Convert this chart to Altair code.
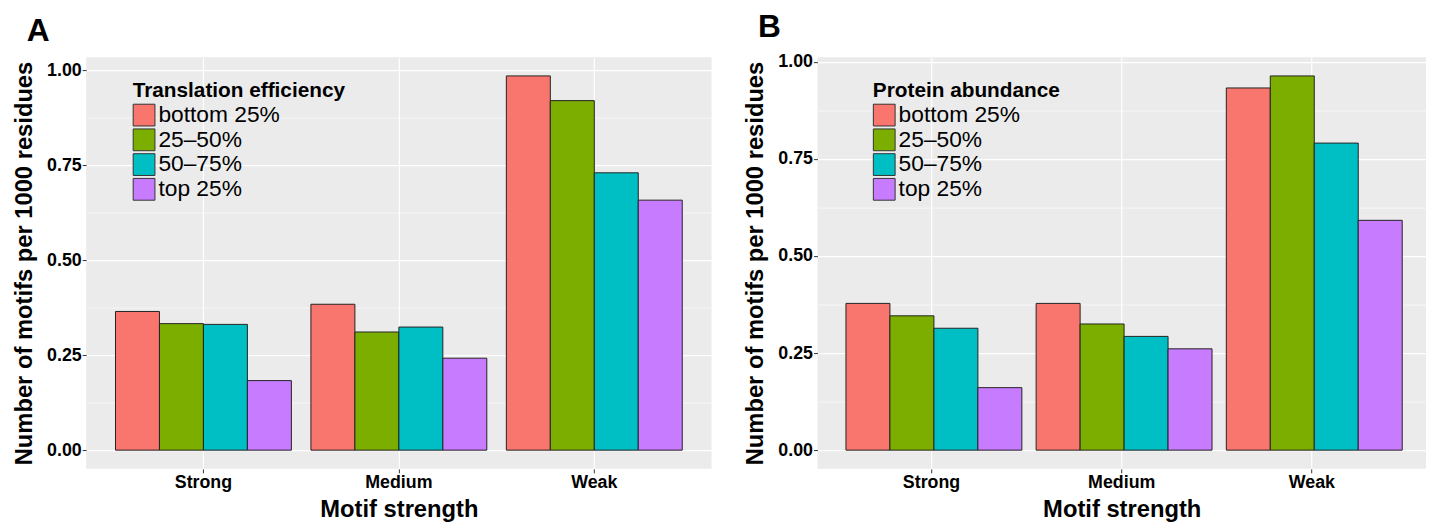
import altair as alt
import pandas as pd

categories = ["Strong", "Medium", "Weak"]
groups = ["bottom 25%", "25–50%", "50–75%", "top 25%"]
colors = ["#F8766D", "#7CAE00", "#00BFC4", "#C77CFF"]

# Panel A: translation efficiency
te_bottom = [0.365, 0.384, 0.985]
te_q2 = [0.333, 0.311, 0.920]
te_q3 = [0.331, 0.324, 0.730]
te_top = [0.183, 0.242, 0.658]

# Panel B: protein abundance
pa_bottom = [0.378, 0.378, 0.933]
pa_q2 = [0.346, 0.325, 0.964]
pa_q3 = [0.314, 0.293, 0.791]
pa_top = [0.161, 0.261, 0.592]

y_ticks = [0, 0.125, 0.25, 0.375, 0.5, 0.625, 0.75, 0.875, 1.0]

FONT = "Liberation Sans"
MAJOR = "datum.value % 0.25 == 0"


def frame(series):
    rows = []
    for g, vals in zip(groups, series):
        for c, v in zip(categories, vals):
            rows.append({"strength": c, "group": g, "value": v})
    return pd.DataFrame(rows)


def panel(df, letter, legend_title, width, legend_x):
    vmax = float(df["value"].max())
    dom = [-0.05 * vmax, 1.05 * vmax]
    return (
        alt.Chart(df)
        .mark_bar(stroke="#222222", strokeWidth=1)
        .encode(
            x=alt.X(
                "strength:N",
                sort=categories,
                scale=alt.Scale(paddingInner=0.1, paddingOuter=0.15),
                axis=alt.Axis(
                    title="Motif strength",
                    labelAngle=0,
                    bandPosition=0.5,
                    grid=True,
                    gridColor="white",
                    gridWidth=1.2,
                    domain=False,
                    tickSize=4,
                    tickColor="#333333",
                    labelPadding=1,
                    labelFont=FONT,
                    labelFontSize=18,
                    labelFontWeight="bold",
                    labelColor="black",
                    titleFont=FONT,
                    titleFontSize=24,
                    titleFontWeight="bold",
                    titleColor="black",
                    titlePadding=6,
                ),
            ),
            xOffset=alt.XOffset(
                "group:N",
                sort=groups,
                scale=alt.Scale(paddingInner=0, paddingOuter=0),
            ),
            y=alt.Y(
                "value:Q",
                stack=None,
                scale=alt.Scale(domain=dom, nice=False, zero=False),
                axis=alt.Axis(
                    title="Number of motifs per 1000 residues",
                    values=y_ticks,
                    labelExpr=f"{MAJOR} ? format(datum.value, '.2f') : ''",
                    grid=True,
                    gridColor="white",
                    gridWidth={"condition": {"test": MAJOR, "value": 1.3}, "value": 0.6},
                    tickOpacity={"condition": {"test": MAJOR, "value": 1}, "value": 0},
                    domain=False,
                    tickSize=4,
                    tickColor="#333333",
                    labelPadding=1,
                    labelFont=FONT,
                    labelFontSize=18,
                    labelFontWeight="bold",
                    labelColor="black",
                    titleFont=FONT,
                    titleFontSize=24,
                    titleFontWeight="bold",
                    titleColor="black",
                    titlePadding=10,
                ),
            ),
            y2=alt.datum(0),
            color=alt.Color(
                "group:N",
                sort=groups,
                scale=alt.Scale(domain=groups, range=colors),
                legend=alt.Legend(
                    title=legend_title,
                    orient="none",
                    legendX=legend_x,
                    legendY=23,
                    padding=0,
                    titleFont=FONT,
                    titleFontSize=21,
                    titleFontWeight="bold",
                    titleColor="black",
                    titlePadding=3,
                    titleLimit=500,
                    labelFont=FONT,
                    labelFontSize=23,
                    labelColor="black",
                    labelOffset=3,
                    labelLimit=400,
                    symbolType="square",
                    symbolSize=484,
                    symbolStrokeColor="#333333",
                    symbolStrokeWidth=1,
                    symbolOpacity=1,
                    rowPadding=-9,
                ),
            ),
        )
        .properties(
            width=width,
            height=416,
            title=alt.TitleParams(
                letter,
                anchor="start",
                frame="group",
                dx=-60,
                offset=9,
                font=FONT,
                fontSize=32,
                fontWeight="bold",
                color="black",
            ),
        )
    )


chart_a = panel(frame([te_bottom, te_q2, te_q3, te_top]), "A", "Translation efficiency", 632, 47)
chart_b = panel(frame([pa_bottom, pa_q2, pa_q3, pa_top]), "B", "Protein abundance", 615, 56)

chart = (
    alt.hconcat(chart_a, chart_b, spacing=32)
    .resolve_scale(color="independent")
    .properties(padding={"left": 4, "top": 0, "right": 0, "bottom": 0})
    .configure(
        font=FONT,
        view=alt.ViewConfig(fill="#EBEBEB", strokeWidth=0, stroke="transparent"),
    )
)

chart.save("out.html", embed_options={"renderer": "svg", "actions": False})
